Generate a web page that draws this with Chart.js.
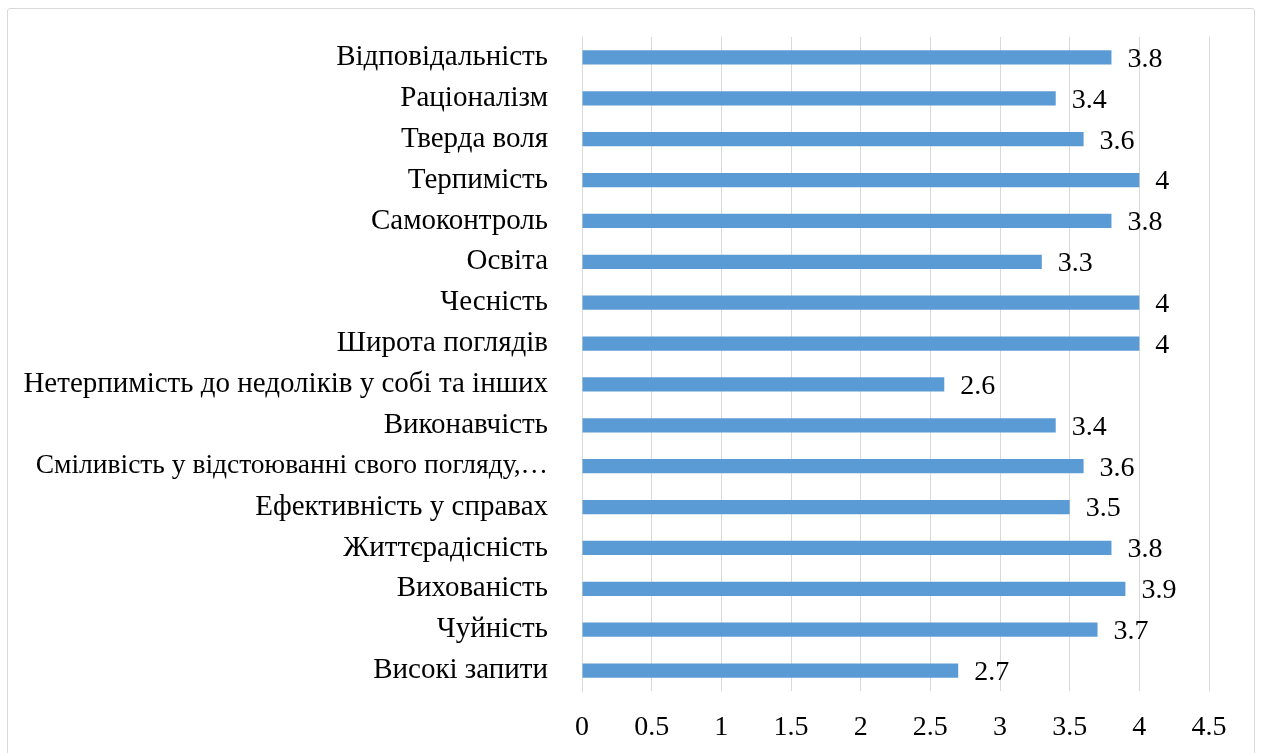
<!DOCTYPE html>
<html>
<head>
<meta charset="utf-8">
<script src="https://cdn.jsdelivr.net/npm/chart.js@4.4.1/dist/chart.umd.min.js"></script>
<style>
  html, body { margin: 0; padding: 0; background: #fff; overflow: hidden; }
  #wrap { position: relative; width: 1261px; height: 753px; }
  #frame { position: absolute; left: 7px; top: 8px; width: 1248px; height: 770px; border: 1px solid #d9d9d9; border-radius: 3px; box-sizing: border-box; }
  canvas { position: absolute; left: 0; top: 0; }
</style>
</head>
<body>
<div id="wrap">
  <div id="frame"></div>
  <canvas id="c" width="1261" height="753"></canvas>
</div>
<script>
const categories = [
  "Відповідальність",
  "Раціоналізм",
  "Тверда воля",
  "Терпимість",
  "Самоконтроль",
  "Освіта",
  "Чесність",
  "Широта поглядів",
  "Нетерпимість до недоліків у собі та інших",
  "Виконавчість",
  "Сміливість у відстоюванні свого погляду,…",
  "Ефективність у справах",
  "Життєрадісність",
  "Вихованість",
  "Чуйність",
  "Високі запити"
];
const values = [3.8, 3.4, 3.6, 4, 3.8, 3.3, 4, 4, 2.6, 3.4, 3.6, 3.5, 3.8, 3.9, 3.7, 2.7];
const xTicks = [0, 0.5, 1, 1.5, 2, 2.5, 3, 3.5, 4, 4.5];

const FONT = "'Liberation Serif', 'Times New Roman', serif";
const FS = 28;
const FS_CAT = 29;

const valueLabels = {
  id: 'valueLabels',
  afterDatasetsDraw(chart) {
    const ctx = chart.ctx;
    const meta = chart.getDatasetMeta(0);
    ctx.save();
    ctx.font = FS + 'px ' + FONT;
    ctx.fillStyle = '#000';
    ctx.textAlign = 'left';
    ctx.textBaseline = 'middle';
    meta.data.forEach((bar, i) => {
      ctx.fillText(String(values[i]), bar.x + 16, bar.y + 2);
    });
    ctx.restore();
  }
};

new Chart(document.getElementById('c'), {
  type: 'bar',
  data: {
    labels: categories,
    datasets: [{
      data: values,
      backgroundColor: '#5b9bd5',
      borderWidth: 0,
      barPercentage: 0.35,
      categoryPercentage: 1.0
    }]
  },
  options: {
    indexAxis: 'y',
    responsive: false,
    animation: false,
    layout: { padding: { left: 0, right: 52, top: 37, bottom: 0 } },
    plugins: { legend: { display: false }, tooltip: { enabled: false } },
    scales: {
      x: {
        min: 0, max: 4.5,
        afterBuildTicks(scale) { scale.ticks = xTicks.map(v => ({ value: v })); },
        afterFit(scale) { scale.height = 62; scale.paddingLeft = 0; scale.paddingRight = 0; },
        grid: { color: '#d9d9d9', lineWidth: 1, drawTicks: false },
        border: { display: false },
        ticks: {
          padding: 20, color: '#000', font: { family: FONT, size: FS }, maxRotation: 0, autoSkip: false,
          callback: (v) => String(v)
        }
      },
      y: {
        afterFit(scale) { scale.width = 582; scale.paddingTop = 0; scale.paddingBottom = 0; },
        grid: { display: false, drawTicks: false },
        border: { display: true, color: '#d9d9d9', width: 1 },
        ticks: {
          padding: 34, color: '#000', autoSkip: false,
          font: (ctx) => ({ family: FONT, size: (ctx.index === 10 ? 27.5 : FS_CAT) })
        }
      }
    }
  },
  plugins: [valueLabels]
});
</script>
</body>
</html>
